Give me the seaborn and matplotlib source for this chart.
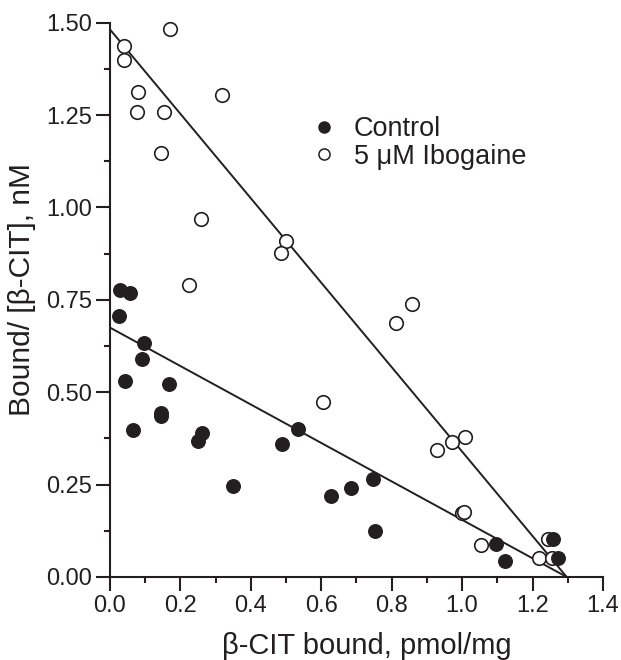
import seaborn as sns
import matplotlib
matplotlib.use("Agg")
import matplotlib.pyplot as plt
from matplotlib.lines import Line2D
from matplotlib.ticker import MultipleLocator
import numpy as np
import pandas as pd

# Scatchard data
control_x = [0.028, 0.057, 0.026, 0.096, 0.091, 0.043, 0.167, 0.145, 0.145, 0.066,
             0.249, 0.261, 0.350, 0.488, 0.533, 0.746, 0.684, 0.627, 0.753, 1.097,
             1.122, 1.259, 1.272]
control_y = [0.777, 0.769, 0.707, 0.634, 0.591, 0.531, 0.522, 0.445, 0.435, 0.397,
             0.369, 0.389, 0.246, 0.359, 0.400, 0.264, 0.240, 0.219, 0.125, 0.088,
             0.043, 0.104, 0.050]

ibogaine_x = [0.172, 0.041, 0.041, 0.080, 0.078, 0.154, 0.317, 0.145, 0.260, 0.500,
              0.486, 0.224, 0.859, 0.813, 0.606, 0.928, 0.972, 1.007, 0.999, 1.006,
              1.054, 1.217, 1.243, 1.255]
ibogaine_y = [1.484, 1.436, 1.399, 1.312, 1.257, 1.257, 1.305, 1.148, 0.970, 0.910,
              0.876, 0.790, 0.738, 0.687, 0.474, 0.344, 0.364, 0.379, 0.172, 0.175,
              0.086, 0.050, 0.104, 0.050]

# linear fits: y intercept and x intercept (Bmax)
control_fit = (0.675, 1.297)
ibogaine_fit = (1.482, 1.297)

x_ticks = [0.0, 0.2, 0.4, 0.6, 0.8, 1.0, 1.2, 1.4]
y_ticks = [0.00, 0.25, 0.50, 0.75, 1.00, 1.25, 1.50]

ink = "#231f20"

sns.set_theme(style="ticks")
plt.rcParams["font.family"] = ["Liberation Sans", "DejaVu Sans"]

df = pd.DataFrame({
    "bound": control_x + ibogaine_x,
    "ratio": control_y + ibogaine_y,
    "group": ["Control"] * len(control_x) + ["Ibogaine"] * len(ibogaine_x),
})

fig = plt.figure(figsize=(6.21, 6.6), dpi=100)
ax = fig.add_axes([0.177, 0.1258, 0.794, 0.8398])

for name, (b0, bmax) in [("Control", control_fit), ("Ibogaine", ibogaine_fit)]:
    xs = np.array([0.0, bmax])
    sns.lineplot(x=xs, y=b0 * (1 - xs / bmax), color=ink, lw=1.4, ax=ax,
                 clip_on=False)

sns.scatterplot(data=df[df.group == "Ibogaine"], x="bound", y="ratio", ax=ax,
                s=95, facecolor="white", edgecolor=ink, linewidth=1.2,
                clip_on=False, zorder=3)
sns.scatterplot(data=df[df.group == "Control"], x="bound", y="ratio", ax=ax,
                s=95, color=ink, edgecolor=ink, linewidth=1.0,
                clip_on=False, zorder=4)

ax.set_xlim(0, 1.4)
ax.set_ylim(0, 1.5)
ax.set_xticks(x_ticks)
ax.set_yticks(y_ticks)
ax.set_xticklabels([f"{v:.1f}" for v in x_ticks])
ax.set_yticklabels([f"{v:.2f}" for v in y_ticks])
ax.xaxis.set_minor_locator(MultipleLocator(0.1))
ax.yaxis.set_minor_locator(MultipleLocator(0.125))
ax.tick_params(which="major", length=10, width=1.5, colors=ink,
               labelsize=17, pad=3)
ax.tick_params(which="minor", length=4.5, width=1.5, colors=ink)
for s in ["left", "bottom"]:
    ax.spines[s].set_linewidth(1.5)
    ax.spines[s].set_color(ink)
sns.despine(ax=ax)

ax.set_xlabel("β-CIT bound, pmol/mg", fontsize=21, color=ink)
ax.set_ylabel("Bound/ [β-CIT], nM", fontsize=21.5, color=ink)
ax.xaxis.set_label_coords(0.522, -0.099)
ax.yaxis.set_label_coords(-0.15, 0.519)

handles = [
    Line2D([], [], marker="o", ls="", color=ink, markersize=8, label="Control"),
    Line2D([], [], marker="o", ls="", markerfacecolor="white", markeredgecolor=ink,
           markeredgewidth=1.1, markersize=8, label="5 μM Ibogaine"),
]
ax.legend(handles=handles, loc="upper left", bbox_to_anchor=(0.357, 0.875),
          frameon=False, fontsize=19.5, handletextpad=0.6, labelspacing=0.05,
          handlelength=1.0, labelcolor=ink)

fig.savefig("out.png", dpi=100)
